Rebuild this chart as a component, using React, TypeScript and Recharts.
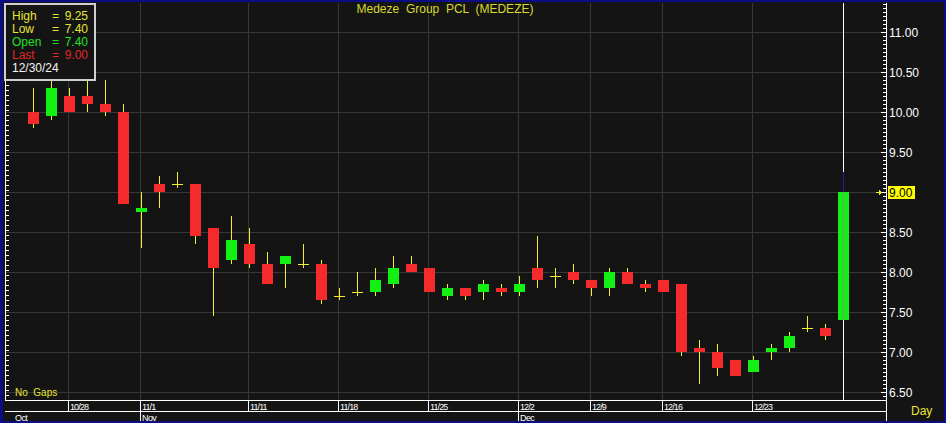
import React from 'react';
import { ComposedChart, Bar, XAxis, YAxis, CartesianGrid } from 'recharts';

const TITLE = 'Medeze  Group  PCL  (MEDEZE)';
const LEGEND_DATE = '12/30/24';

const DATES = ['10/24', '10/25', '10/28', '10/29', '10/30', '10/31', '11/1', '11/4', '11/5', '11/6', '11/7', '11/8', '11/11', '11/12', '11/13', '11/14', '11/15', '11/18', '11/19', '11/20', '11/21', '11/22', '11/25', '11/26', '11/27', '11/28', '11/29', '12/2', '12/3', '12/4', '12/6', '12/9', '12/11', '12/12', '12/13', '12/16', '12/17', '12/18', '12/19', '12/20', '12/23', '12/24', '12/25', '12/26', '12/27', '12/30'];
const OPEN = [10.0, 9.95, 10.2, 10.2, 10.1, 10.0, 8.75, 9.1, 9.1, 9.1, 8.55, 8.15, 8.35, 8.1, 8.1, 8.1, 8.1, 7.7, 7.75, 7.75, 7.85, 8.1, 8.05, 7.7, 7.8, 7.75, 7.8, 7.75, 8.05, 7.95, 8.0, 7.9, 7.8, 8.0, 7.85, 7.9, 7.85, 7.05, 7.0, 6.9, 6.75, 7.0, 7.05, 7.3, 7.3, 7.4];
const HIGH = [10.3, 10.4, 10.3, 10.4, 10.4, 10.1, 9.0, 9.2, 9.25, 9.1, 8.55, 8.7, 8.55, 8.25, 8.2, 8.35, 8.15, 7.8, 8.0, 8.05, 8.2, 8.2, 8.05, 7.85, 7.8, 7.9, 7.85, 7.95, 8.45, 8.05, 8.1, 7.9, 8.05, 8.05, 7.9, 7.9, 7.85, 7.15, 7.1, 6.9, 6.95, 7.1, 7.25, 7.45, 7.35, 9.25];
const LOW = [9.8, 9.9, 10.0, 10.0, 9.95, 8.85, 8.3, 8.8, 9.05, 8.35, 7.45, 8.1, 8.05, 7.85, 7.8, 8.05, 7.6, 7.65, 7.7, 7.7, 7.8, 8.0, 7.75, 7.65, 7.65, 7.65, 7.7, 7.7, 7.8, 7.8, 7.85, 7.7, 7.7, 7.85, 7.75, 7.75, 6.95, 6.6, 6.7, 6.7, 6.75, 6.9, 7.0, 7.25, 7.15, 7.4];
const CLOSE = [9.85, 10.3, 10.0, 10.1, 10.0, 8.85, 8.8, 9.0, 9.1, 8.45, 8.05, 8.4, 8.1, 7.85, 8.2, 8.1, 7.65, 7.7, 7.75, 7.9, 8.05, 8.0, 7.75, 7.8, 7.7, 7.85, 7.75, 7.85, 7.9, 7.95, 7.9, 7.8, 8.0, 7.85, 7.8, 7.75, 7.0, 7.0, 6.8, 6.7, 6.9, 7.05, 7.2, 7.3, 7.2, 9.0];

const DATE_TICKS = ['10/28', '11/1', '11/11', '11/18', '11/25', '12/2', '12/9', '12/16', '12/23'];
const MONTH_TICKS = ['10/24', '11/1', '12/2'];
const MONTH_LABELS = ['Oct', 'Nov', 'Dec'];
const PRICE_TICKS = [6.5, 7.0, 7.5, 8.0, 8.5, 9.0, 9.5, 10.0, 10.5, 11.0];
const Y_MIN = 6.4;
const Y_MAX = 11.3625;
const RIGHT_MINOR_STEP = 0.05;
const LEFT_MINOR_STEP = 0.0625;

const data = DATES.map((date, i) => ({ date, open: OPEN[i], high: HIGH[i], low: LOW[i], close: CLOSE[i] }));
const LAST = data[data.length - 1];

const RIGHT_MINOR: number[] = [];
for (let v = Y_MIN; v <= Y_MAX + 1e-9; v += RIGHT_MINOR_STEP) RIGHT_MINOR.push(Math.round(v * 100) / 100);
const LEFT_MINOR: number[] = [];
for (let v = Y_MIN; v <= Y_MAX + 1e-9; v += LEFT_MINOR_STEP) LEFT_MINOR.push(Math.round(v * 10000) / 10000);

const C = {
  bg: '#141414',
  grid: '#363636',
  up: '#14ef14',
  down: '#f52b2b',
  wick: '#f0f02c',
  navy: '#0c0c84',
  cursorWick: '#1e1ea0',
  yellowText: '#e6e632',
  titleText: '#d9d92a',
  white: '#ffffff',
};
const FONT = '"Liberation Sans", Arial, sans-serif';

function Candle(props: any) {
  const { x, y, width, height, payload } = props;
  if (!payload || x == null || y == null) return null;
  const { open, high, low, close, date } = payload;
  const span = high - low;
  const ppu = span > 0 ? height / span : 0;
  const yOf = (v: number) => y + (high - v) * ppu;
  const cx = Math.round(x + width / 2);
  const wx = cx + 0.5;
  const isCursor = date === LAST.date;
  const bodyTop = Math.round(yOf(Math.max(open, close)));
  const bodyBot = Math.round(yOf(Math.min(open, close)));
  const up = close > open;
  return (
    <g>
      {isCursor && <line x1={wx} x2={wx} y1={yOf(Y_MAX)} y2={yOf(Y_MIN)} stroke={C.white} strokeWidth={1} />}
      <line x1={wx} x2={wx} y1={Math.round(yOf(high))} y2={Math.round(yOf(low))} stroke={isCursor ? C.cursorWick : C.wick} strokeWidth={1} />
      {open === close ? (
        <line x1={cx - 5} x2={cx + 6} y1={bodyTop + 0.5} y2={bodyTop + 0.5} stroke={C.wick} strokeWidth={1} />
      ) : (
        <rect x={cx - 5} y={bodyTop} width={11} height={Math.max(1, bodyBot - bodyTop)} fill={up ? C.up : C.down} />
      )}
      {isCursor && <line x1={wx} x2={wx} y1={bodyTop} y2={bodyBot} stroke="#8c8c8c" strokeWidth={1} />}
    </g>
  );
}

function RightTick(props: any) {
  const { x, y, payload } = props;
  const v = Math.round(payload.value * 100) / 100;
  const major = PRICE_TICKS.some((t) => Math.abs(t - v) < 1e-6);
  if (!major) {
    return <line x1={x - 3} x2={x} y1={y + 0.5} y2={y + 0.5} stroke={C.white} />;
  }
  const isLast = Math.abs(v - LAST.close) < 1e-6;
  return (
    <g>
      <line x1={x - 5} x2={x + 1} y1={y + 0.5} y2={y + 0.5} stroke={C.white} />
      {isLast && (
        <>
          <path d={`M${x - 10},${y + 0.5} H${x - 5} M${x - 7},${y - 1.5} L${x - 5},${y + 0.5} L${x - 7},${y + 2.5}`} stroke={C.wick} fill="none" />
          <rect x={x + 2} y={y - 6} width={27} height={13} fill="#ffff00" />
        </>
      )}
      <text x={x + 3} y={y + 4.5} fill={isLast ? '#000' : C.white} fontSize={12} fontFamily={FONT}>
        {v.toFixed(2)}
      </text>
    </g>
  );
}

function LeftTick(props: any) {
  const { x, y } = props;
  return <line x1={x} x2={x + 4} y1={Math.round(y) + 0.5} y2={Math.round(y) + 0.5} stroke={C.white} />;
}

function DateTick(props: any) {
  const { x, y, payload } = props;
  return (
    <g>
      <line x1={x + 0.5} x2={x + 0.5} y1={y} y2={y + 11} stroke={C.white} />
      <text x={x + 2} y={y + 10} fill={C.white} fontSize={9} letterSpacing={-0.9} fontFamily={FONT}>
        {payload.value}
      </text>
    </g>
  );
}

function MonthTick(props: any) {
  const { x, y, payload, index } = props;
  const i = MONTH_TICKS.indexOf(payload.value);
  const label = MONTH_LABELS[i >= 0 ? i : index];
  if (i === 0) {
    return (
      <text x={x - 17} y={y + 9.5} fill={C.white} fontSize={9} letterSpacing={-0.6} fontFamily={FONT}>
        {label}
      </text>
    );
  }
  return (
    <g>
      <line x1={x + 0.5} x2={x + 0.5} y1={y} y2={y + 10} stroke={C.white} />
      <text x={x + 2} y={y + 9.5} fill={C.white} fontSize={9} letterSpacing={-0.6} fontFamily={FONT}>
        {label}
      </text>
    </g>
  );
}

export default function App() {
  const legendRows = [
    { label: 'High', value: LAST.high.toFixed(2), color: C.yellowText },
    { label: 'Low', value: LAST.low.toFixed(2), color: C.yellowText },
    { label: 'Open', value: LAST.open.toFixed(2), color: '#22e022' },
    { label: 'Last', value: LAST.close.toFixed(2), color: '#e02828' },
  ];
  return (
    <div
      style={{
        position: 'absolute',
        left: 0,
        top: 0,
        width: 946,
        height: 423,
        background: C.bg,
        overflow: 'hidden',
        fontFamily: FONT,
        shapeRendering: 'crispEdges',
      }}
    >
      <ComposedChart width={946} height={423} data={data} margin={{ top: 3, right: 0, bottom: 0, left: 4 }}>
        <CartesianGrid xAxisId="date" yAxisId="price" stroke={C.grid} horizontalValues={PRICE_TICKS} />
        <XAxis
          xAxisId="date"
          dataKey="date"
          type="category"
          ticks={DATE_TICKS}
          interval={0}
          height={11}
          padding={{ left: 18, right: 35 }}
          tickSize={0}
          tickMargin={0}
          tickLine={false}
          axisLine={{ stroke: C.white }}
          tick={(p: any) => <DateTick {...p} />}
        />
        <XAxis
          xAxisId="month"
          dataKey="date"
          type="category"
          ticks={MONTH_TICKS}
          interval={0}
          height={12}
          padding={{ left: 18, right: 35 }}
          tickSize={0}
          tickMargin={0}
          tickLine={false}
          axisLine={{ stroke: C.white }}
          tick={(p: any) => <MonthTick {...p} />}
        />
        <YAxis
          yAxisId="price"
          orientation="right"
          type="number"
          width={60}
          domain={[Y_MIN, Y_MAX]}
          allowDataOverflow
          ticks={RIGHT_MINOR}
          interval={0}
          tickSize={0}
          tickMargin={0}
          tickLine={false}
          axisLine={{ stroke: C.white }}
          tick={(p: any) => <RightTick {...p} />}
        />
        <YAxis
          yAxisId="left"
          orientation="left"
          type="number"
          width={1}
          domain={[Y_MIN, Y_MAX]}
          allowDataOverflow
          ticks={LEFT_MINOR}
          interval={0}
          tickSize={0}
          tickMargin={0}
          tickLine={false}
          axisLine={{ stroke: C.white }}
          tick={(p: any) => <LeftTick {...p} />}
        />
        <Bar
          xAxisId="date"
          yAxisId="price"
          dataKey={(d: any) => [d.low, d.high]}
          barSize={11}
          shape={(p: any) => <Candle {...p} />}
          isAnimationActive={false}
        />
      </ComposedChart>

      {/* title */}
      <div
        style={{
          position: 'absolute',
          left: 0,
          top: 2,
          width: 890,
          textAlign: 'center',
          fontSize: 12,
          lineHeight: '14px',
          color: C.titleText,
          whiteSpace: 'pre',
        }}
      >
        {TITLE}
      </div>

      {/* legend box */}
      <div
        style={{
          position: 'absolute',
          left: 4,
          top: 3,
          width: 88,
          height: 69,
          border: '2px solid #cfcfcf',
          background: C.bg,
          paddingTop: 5,
          fontSize: 12,
          lineHeight: '13px',
          boxSizing: 'content-box',
        }}
      >
        {legendRows.map((r) => (
          <div key={r.label} style={{ color: r.color, whiteSpace: 'pre', height: 13, position: 'relative' }}>
            <span style={{ position: 'absolute', left: 6 }}>{r.label}</span>
            <span style={{ position: 'absolute', left: 46 }}>=</span>
            <span style={{ position: 'absolute', right: 6 }}>{r.value}</span>
          </div>
        ))}
        <div style={{ color: '#f4f4f4', paddingLeft: 6, height: 13 }}>{LEGEND_DATE}</div>
      </div>

      <div style={{ position: 'absolute', left: 15, top: 387, fontSize: 10, lineHeight: '12px', color: C.yellowText, whiteSpace: 'pre' }}>
        No  Gaps
      </div>
      <div style={{ position: 'absolute', left: 911, top: 404, fontSize: 12, lineHeight: '14px', color: C.yellowText }}>Day</div>

      {/* right axis extension below the plot */}
      <div style={{ position: 'absolute', left: 886, top: 400, width: 1, height: 21, background: C.white }} />

      {/* frame */}
      <div
        style={{
          position: 'absolute',
          left: 0,
          top: 0,
          width: 946,
          height: 423,
          boxSizing: 'border-box',
          borderTop: `2px solid ${C.navy}`,
          borderLeft: `3px solid ${C.navy}`,
          borderRight: `2px solid ${C.navy}`,
          borderBottom: `2px solid ${C.navy}`,
          pointerEvents: 'none',
        }}
      />
    </div>
  );
}
